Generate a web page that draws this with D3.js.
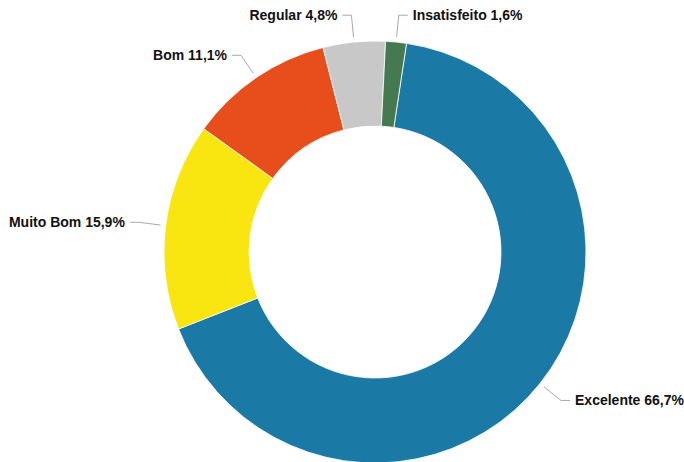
<!DOCTYPE html>
<html>
<head>
<meta charset="utf-8">
<script src="https://cdn.jsdelivr.net/npm/d3@7"></script>
<style>
    body { margin: 0; background: #fff; }
    .label { font-family: "Liberation Sans", Arial, sans-serif; font-size: 14px; font-weight: bold; fill: #111; }
</style>
</head>
<body>
<div class="chart"></div>
<script>
// survey answers (counts out of 63)
const categories = ['Excelente', 'Muito Bom', 'Bom', 'Regular', 'Insatisfeito'];
const counts = [42, 10, 7, 3, 1];
const colors = ['#1b79a6', '#f9e50f', '#e84e1b', '#c8c8c8', '#457a50'];

function donutChart() {
    const width = 684,
        height = 462,
        center = { x: 375, y: 252 },
        outerRadius = 211,
        innerRadius = 126,
        lineStart = outerRadius + 5,   // connector begins just outside the ring
        lineBreak = outerRadius + 27,  // radial part ends here
        lineFlat = 9,                  // horizontal bit
        textGap = 5;

    const total = d3.sum(counts);
    const fmt = (v) => (v / total * 100).toFixed(1).replace('.', ',') + '%';

    const data = categories.map((c, i) => ({ name: c, value: counts[i], color: colors[i] }));

    const pie = d3.pie()
        .sort(null)
        .value((d) => d.value)
        .startAngle(0.15)
        .endAngle(0.15 + 2 * Math.PI);

    const arc = d3.arc()
        .innerRadius(innerRadius)
        .outerRadius(outerRadius);

    const svg = d3.select('.chart')
        .append('svg')
        .attr('width', width)
        .attr('height', height);

    const g = svg.append('g')
        .attr('transform', `translate(${center.x},${center.y})`);

    const arcs = pie(data);

    g.selectAll('.slice')
        .data(arcs)
        .enter().append('path')
        .classed('slice', true)
        .attr('d', arc)
        .attr('fill', (d) => d.data.color)
        .attr('stroke', '#fff')
        .attr('stroke-width', 0.8);

    // point on a circle for a given angle (0 = 12 o'clock, clockwise)
    function polar(a, r) {
        return [Math.sin(a) * r, -Math.cos(a) * r];
    }

    const labels = arcs.map((d) => {
        const mid = (d.startAngle + d.endAngle) / 2;
        const side = Math.sin(mid) >= 0 ? 1 : -1;
        const p0 = polar(mid, lineStart);
        const p1 = polar(mid, lineBreak);
        const p2 = [p1[0] + side * lineFlat, p1[1]];
        return { d, side, pts: [p0, p1, p2], tx: p2[0] + side * textGap, ty: p1[1] };
    });

    g.selectAll('.connector')
        .data(labels)
        .enter().append('polyline')
        .classed('connector', true)
        .attr('points', (l) => l.pts.map((p) => p.join(',')).join(' '))
        .attr('fill', 'none')
        .attr('stroke', '#aaa')
        .attr('stroke-width', 1);

    g.selectAll('.label')
        .data(labels)
        .enter().append('text')
        .classed('label', true)
        .attr('x', (l) => l.tx)
        .attr('y', (l) => l.ty)
        .attr('dy', '0.35em')
        .attr('text-anchor', (l) => l.side > 0 ? 'start' : 'end')
        .text((l) => `${l.d.data.name} ${fmt(l.d.data.value)}`);
}

donutChart();
</script>
</body>
</html>
